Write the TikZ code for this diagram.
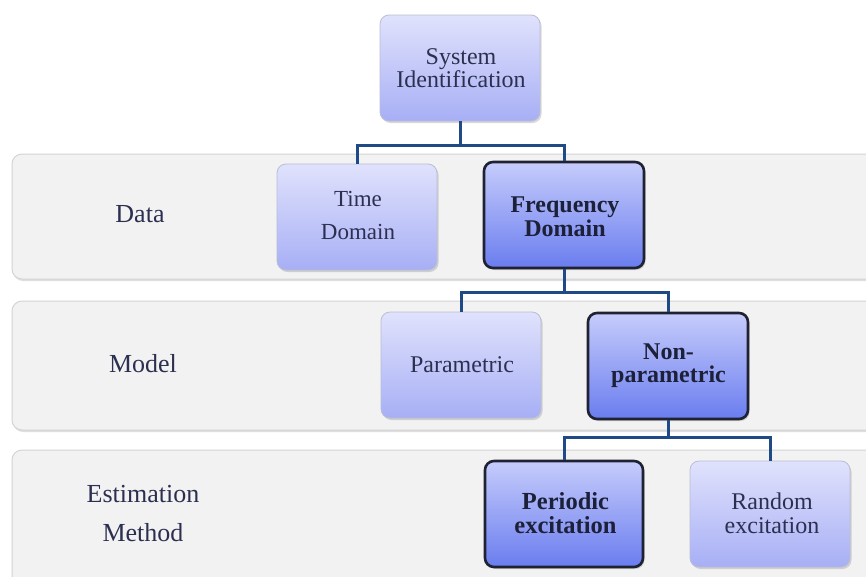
\documentclass[tikz,border=0pt]{standalone}
\usepackage{fontspec}
\setmainfont{Liberation Serif}
\usetikzlibrary{shadows}
\definecolor{bandfill}{HTML}{F2F2F2}
\definecolor{bandline}{HTML}{D4D4D4}
\definecolor{lighttop}{HTML}{E0E2FC}
\definecolor{lightbot}{HTML}{A7AFF5}
\definecolor{darktop}{HTML}{C6CCFB}
\definecolor{darkbot}{HTML}{6A7DEF}
\definecolor{boxline}{HTML}{B9BDD6}
\definecolor{strongline}{HTML}{1E2233}
\definecolor{linkblue}{HTML}{1F4A86}
\definecolor{txt}{HTML}{2C3050}
\definecolor{txtbold}{HTML}{1C2038}
\newcommand{\fs}[2]{\fontsize{#1}{#2}\selectfont}
\tikzset{
  band/.style={fill=bandfill, draw=bandline, line width=1pt, rounded corners=10pt,
    drop shadow={shadow xshift=1pt, shadow yshift=-2pt, opacity=0.25}},
  boxshape/.style={rounded corners=9pt, minimum width=160pt, minimum height=106pt,
    drop shadow={shadow xshift=1.5pt, shadow yshift=-2pt, opacity=0.3}},
  lightbox/.style={boxshape, draw=boxline, line width=0.8pt,
    top color=lighttop, bottom color=lightbot},
  strongbox/.style={boxshape, draw=strongline, line width=2.6pt,
    top color=darktop, bottom color=darkbot},
  boxtext/.style={align=center, text=txt, inner sep=0pt},
  boldtext/.style={align=center, text=txtbold, inner sep=0pt, font=\bfseries},
  rowlabel/.style={text=txt, align=center, inner sep=0pt},
  link/.style={draw=linkblue, line width=3pt}
}
\begin{document}
\begin{tikzpicture}[x=1pt,y=-1pt]
\useasboundingbox (0,0) rectangle (866,576);
\fill[white] (0,0) rectangle (866,576);

% the three row bands
\draw[band] (12,154) rectangle (880,279);
\draw[band] (12,301) rectangle (880,430);
\draw[band] (12,450) rectangle (880,590);

\node[rowlabel, font=\fs{26}{39}] (ldata) at (140,214) {Data};
\node[rowlabel, font=\fs{26}{39}] (lmodel) at (143,364) {Model};
\node[rowlabel, font=\fs{26}{39}] (lest) at (143,513.5) {Estimation\\Method};

% boxes
\node[lightbox] (sys) at (460,68) {};
\node[lightbox] (time) at (357,217) {};
\node[strongbox] (freq) at (564,215) {};
\node[lightbox] (par) at (461,365) {};
\node[strongbox] (nonpar) at (668,366) {};
\node[strongbox, minimum width=158pt] (per) at (564,514) {};
\node[lightbox] (rand) at (770,514) {};

% junctions of the tree links, straight below each parent
\coordinate (j1) at (460,145);
\coordinate (j2) at (564,292);
\coordinate (j3) at (668,437);

% texts inside the boxes
\node[boxtext, font=\fs{24}{22}] (tsys) at (461,68) {System\\Identification};
\node[boxtext, font=\fs{23}{33}] (ttime) at (358,215.7) {Time\\Domain};
\node[boldtext, font=\fs{24}{24}\bfseries] (tfreq) at (565,217) {Frequency\\Domain};
\node[boxtext, font=\fs{24}{24}] (tpar) at (462,364.8) {Parametric};
\node[boldtext, font=\fs{24}{23}\bfseries] (tnonpar) at (668.5,366) {Non-\\parametric};
\node[boldtext, font=\fs{24.5}{24}\bfseries] (tper) at (565.5,512.7) {Periodic\\excitation};
\node[boxtext, font=\fs{24}{24}] (trand) at (772,512.8) {Random\\excitation};

% tree links
\draw[link] (sys.south) -- (j1);
\draw[link] (time.north) |- (j1) -| (freq.north);
\draw[link] (freq.south) -- (j2);
\draw[link] (par.north) |- (j2) -| (nonpar.north);
\draw[link] (nonpar.south) -- (j3);
\draw[link] (per.north) |- (j3) -| (rand.north);
\end{tikzpicture}
\end{document}
